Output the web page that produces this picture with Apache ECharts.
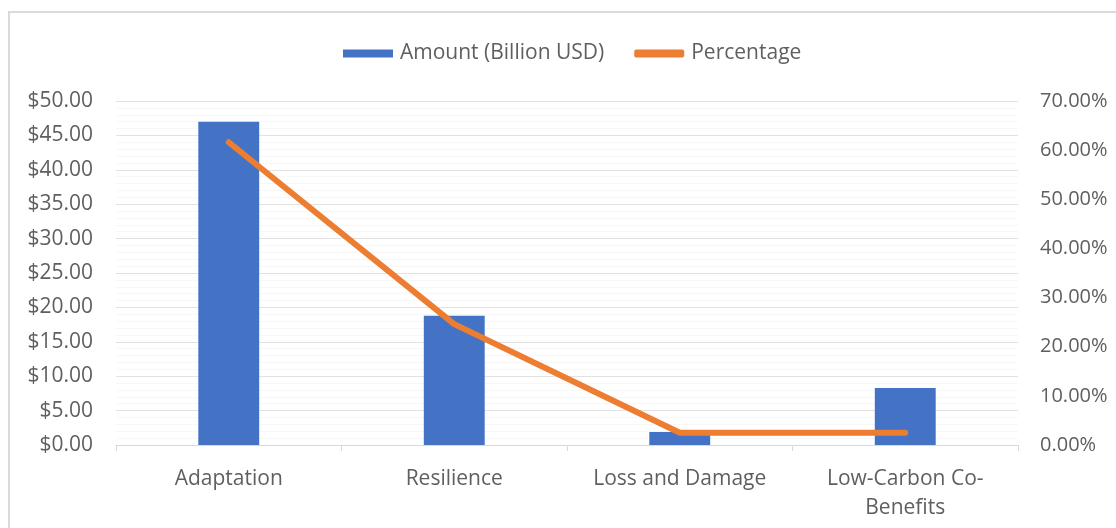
<!DOCTYPE html>
<html>
<head>
<meta charset="utf-8">
<script src="https://cdn.jsdelivr.net/npm/echarts@6/dist/echarts.min.js"></script>
<style>
  html, body { margin: 0; padding: 0; background: #fff; }
  #chart { width: 1116px; height: 528px; }
</style>
</head>
<body>
<div id="chart"></div>
<script>
const categories = ['Adaptation', 'Resilience', 'Loss and Damage', 'Low-Carbon Co-Benefits']
const amountValues = [47.0, 18.8, 1.9, 8.3]
const percentValues = [61.6, 24.6, 2.5, 2.5]
const amountTicks = { min: 0, max: 50, interval: 5 }
const percentTicks = { min: 0, max: 70, interval: 10 }

const textColor = '#5f5f5f'
const fontFamily = 'Open Sans'

const chart = echarts.init(document.getElementById('chart'))
const option = {
  animation: false,
  textStyle: { fontFamily: fontFamily },
  graphic: [{
    type: 'rect',
    shape: { x: 9, y: 12, width: 1200, height: 600 },
    style: { fill: 'none', stroke: '#d9d9d9', lineWidth: 2 },
    silent: true
  }],
  legend: {
    top: 38,
    left: 338,
    itemWidth: 50,
    itemHeight: 8,
    itemGap: 30,
    textStyle: { color: textColor, fontSize: 21, fontFamily: fontFamily, padding: [0, 0, 0, 2] },
    data: [
      { name: 'Amount (Billion USD)', icon: 'rect' },
      { name: 'Percentage', icon: 'roundRect', itemStyle: { color: '#ed7d31' } }
    ]
  },
  grid: {
    left: 116,
    right: 98,
    top: 101,
    bottom: 83
  },
  xAxis: {
    type: 'category',
    data: categories,
    axisLine: { lineStyle: { color: '#d9d9d9', width: 1 } },
    axisTick: { show: true, length: 6, lineStyle: { color: '#d9d9d9' } },
    axisLabel: {
      color: textColor,
      fontSize: 21,
      margin: 20,
      lineHeight: 29,
      formatter: v => v.replace('Co-', 'Co-\n')
    }
  },
  yAxis: [{
    type: 'value',
    min: amountTicks.min,
    max: amountTicks.max,
    interval: amountTicks.interval,
    axisLine: { show: false },
    axisTick: { show: false },
    splitLine: { lineStyle: { color: '#e2e2e2', width: 1 } },
    minorTick: { show: false, splitNumber: 5 },
    minorSplitLine: { show: true, lineStyle: { color: '#f7f7f7', width: 1 } },
    axisLabel: {
      color: textColor,
      fontSize: 21,
      margin: 23,
      formatter: v => '$' + v.toFixed(2)
    }
  }, {
    type: 'value',
    min: percentTicks.min,
    max: percentTicks.max,
    interval: percentTicks.interval,
    axisLine: { show: false },
    axisTick: { show: false },
    splitLine: { show: false },
    axisLabel: {
      color: textColor,
      fontSize: 20,
      margin: 22,
      formatter: v => v.toFixed(2) + '%'
    }
  }],
  series: [{
    name: 'Amount (Billion USD)',
    type: 'bar',
    barWidth: '27%',
    itemStyle: { color: '#4472c4' },
    data: amountValues
  }, {
    name: 'Percentage',
    type: 'line',
    yAxisIndex: 1,
    symbol: 'none',
    lineStyle: { color: '#ed7d31', width: 6, cap: 'round', join: 'round' },
    itemStyle: { color: '#ed7d31' },
    data: percentValues
  }]
}
chart.setOption(option)
window.addEventListener('resize', () => chart.resize())
</script>
</body>
</html>
